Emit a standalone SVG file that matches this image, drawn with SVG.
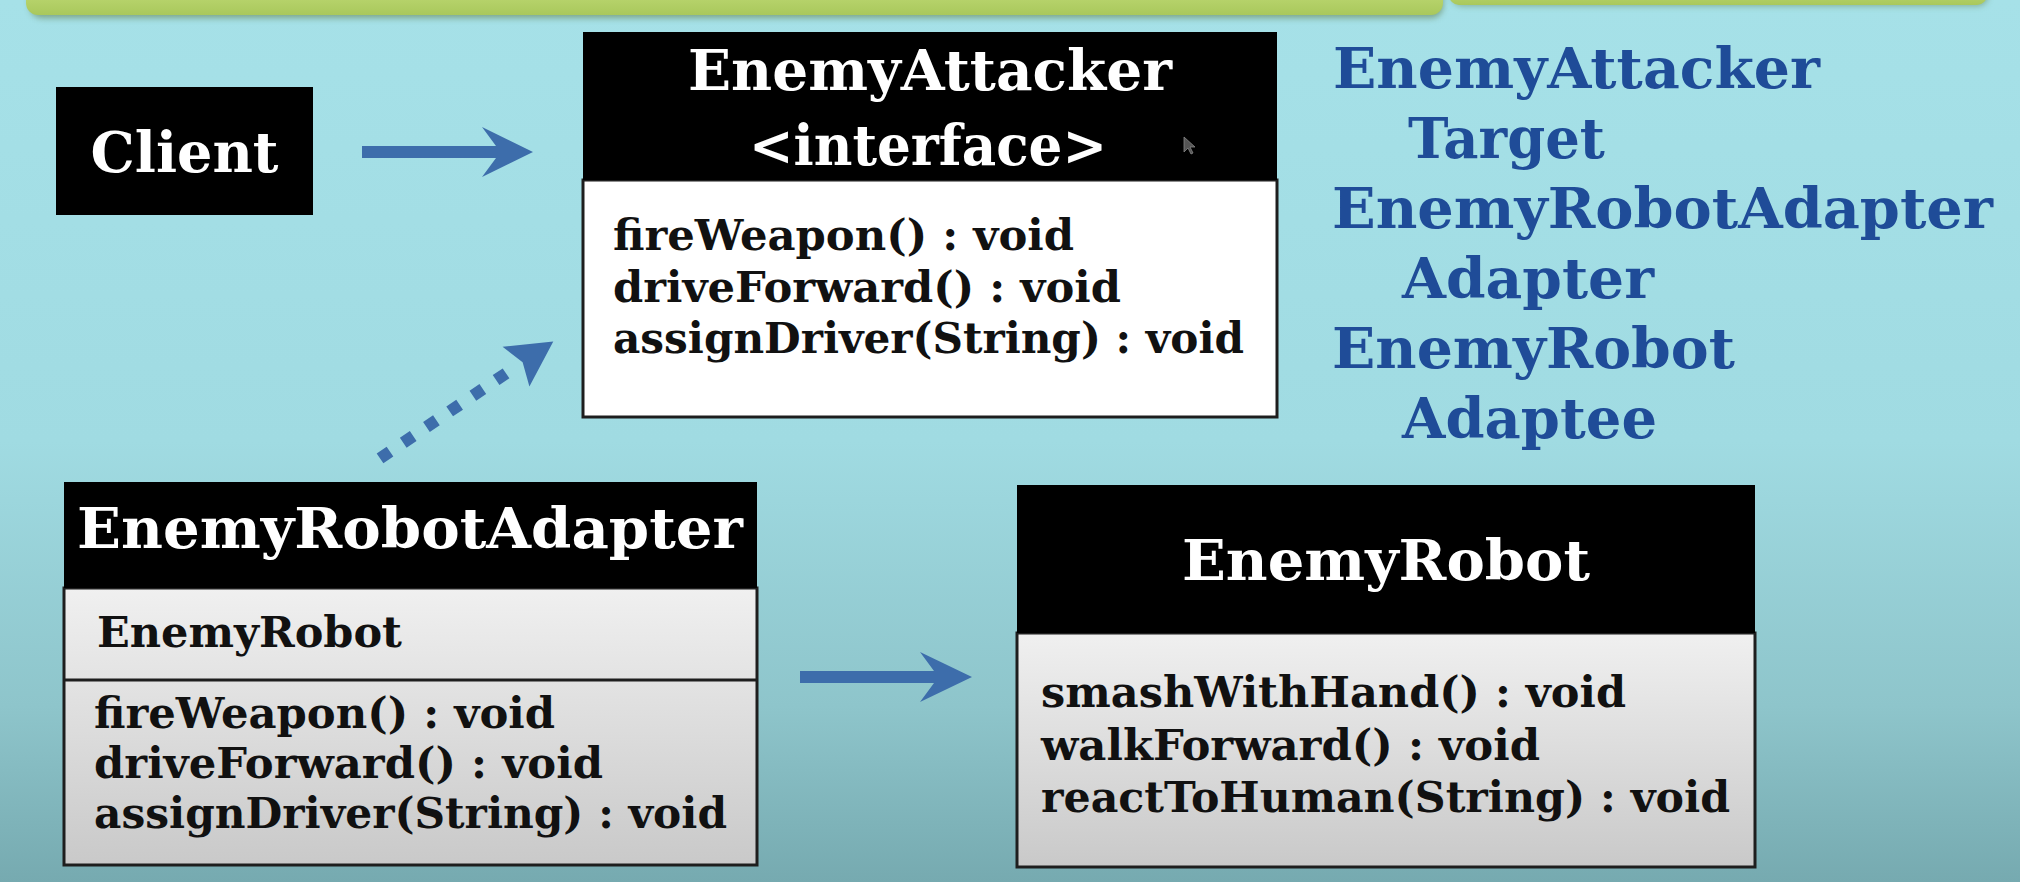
<svg xmlns="http://www.w3.org/2000/svg" width="2020" height="882" viewBox="0 0 2020 882">
  <defs>
    <linearGradient id="bg" x1="0" y1="0" x2="0" y2="1">
      <stop offset="0" stop-color="#a6e1e8"/>
      <stop offset="0.5" stop-color="#a0dbe2"/>
      <stop offset="0.8" stop-color="#8ec5cb"/>
      <stop offset="1" stop-color="#76aab0"/>
    </linearGradient>
    <linearGradient id="green" x1="0" y1="0" x2="0" y2="1">
      <stop offset="0" stop-color="#c6df7c"/>
      <stop offset="1" stop-color="#a9c85c"/>
    </linearGradient>
    <linearGradient id="grayBody" x1="0" y1="0" x2="0" y2="1">
      <stop offset="0" stop-color="#f0f0f0"/>
      <stop offset="1" stop-color="#c9c9c9"/>
    </linearGradient>
    <filter id="shadow" x="-5%" y="-50%" width="110%" height="300%">
      <feGaussianBlur stdDeviation="3"/>
    </filter>
    <style>
      .hdr { fill: #000; }
      .box { stroke: #1e1e1e; stroke-width: 3; }
      .title { font-family: "DejaVu Serif", "Liberation Serif", serif; font-weight: bold; font-size: 56px; fill: #ffffff; }
      .meth { font-family: "DejaVu Serif", "Liberation Serif", serif; font-weight: bold; font-size: 42px; fill: #111111; }
      .blue { font-family: "DejaVu Serif", "Liberation Serif", serif; font-weight: bold; font-size: 56px; fill: #1f4c98; }
      .arrow { fill: #3d6dab; }
      .dots { stroke: #3d6dab; stroke-width: 12; stroke-dasharray: 12 16; fill: none; }
    </style>
  </defs>

  <!-- background -->
  <rect x="0" y="0" width="2020" height="882" fill="url(#bg)"/>

  <!-- green title bar remnant -->
  <g id="top-bar">
    <rect x="30" y="-20" width="1413" height="38" rx="12" fill="#5f7d4a" opacity="0.6" filter="url(#shadow)"/>
    <rect x="26" y="-20" width="1417" height="35" rx="12" fill="url(#green)"/>
    <rect x="1452" y="-20" width="536" height="26" rx="10" fill="#5f7d4a" opacity="0.5" filter="url(#shadow)"/>
    <rect x="1449" y="-20" width="538" height="25" rx="10" fill="url(#green)"/>
  </g>

  <!-- Client -->
  <g id="client">
    <rect x="56" y="87" width="257" height="128" class="hdr"/>
    <text class="title" x="184.5" y="172" text-anchor="middle" font-size="57" textLength="188" lengthAdjust="spacingAndGlyphs">Client</text>
  </g>

  <!-- EnemyAttacker interface -->
  <g id="enemy-attacker">
    <rect x="583" y="180" width="694" height="237" fill="#ffffff" class="box"/>
    <rect x="583" y="32" width="694" height="148" class="hdr"/>
    <text class="title" x="930" y="90" text-anchor="middle" textLength="484" lengthAdjust="spacingAndGlyphs">EnemyAttacker</text>
    <text class="title" x="928" y="165" text-anchor="middle" textLength="358" lengthAdjust="spacingAndGlyphs">&lt;interface&gt;</text>
    <text class="meth" x="613" y="250" textLength="461" lengthAdjust="spacingAndGlyphs">fireWeapon() : void</text>
    <text class="meth" x="613" y="302" textLength="508" lengthAdjust="spacingAndGlyphs">driveForward() : void</text>
    <text class="meth" x="613" y="353" textLength="631" lengthAdjust="spacingAndGlyphs">assignDriver(String) : void</text>
    <!-- mouse pointer -->
    <path d="M1184,137 L1184,152 L1188,148 L1191,154 L1193,153 L1190,147 L1195,147 Z" fill="#555" stroke="#888" stroke-width="0.8"/>
  </g>

  <!-- EnemyRobotAdapter -->
  <g id="enemy-robot-adapter">
    <rect x="64" y="588" width="693" height="277" fill="url(#grayBody)" class="box"/>
    <line x1="64" y1="680" x2="757" y2="680" stroke="#1e1e1e" stroke-width="3"/>
    <rect x="64" y="482" width="693" height="106" class="hdr"/>
    <text class="title" x="410" y="548" text-anchor="middle" textLength="666" lengthAdjust="spacingAndGlyphs">EnemyRobotAdapter</text>
    <text class="meth" x="97" y="647" font-size="41" textLength="305" lengthAdjust="spacingAndGlyphs">EnemyRobot</text>
    <text class="meth" x="94" y="728" textLength="461" lengthAdjust="spacingAndGlyphs">fireWeapon() : void</text>
    <text class="meth" x="94" y="778" textLength="509" lengthAdjust="spacingAndGlyphs">driveForward() : void</text>
    <text class="meth" x="94" y="828" textLength="633" lengthAdjust="spacingAndGlyphs">assignDriver(String) : void</text>
  </g>

  <!-- EnemyRobot -->
  <g id="enemy-robot">
    <rect x="1017" y="633" width="738" height="234" fill="url(#grayBody)" class="box"/>
    <rect x="1017" y="485" width="738" height="148" class="hdr"/>
    <text class="title" x="1386" y="580" text-anchor="middle" textLength="408" lengthAdjust="spacingAndGlyphs">EnemyRobot</text>
    <text class="meth" x="1041" y="707" textLength="585" lengthAdjust="spacingAndGlyphs">smashWithHand() : void</text>
    <text class="meth" x="1041" y="760" textLength="499" lengthAdjust="spacingAndGlyphs">walkForward() : void</text>
    <text class="meth" x="1041" y="812" textLength="689" lengthAdjust="spacingAndGlyphs">reactToHuman(String) : void</text>
  </g>

  <!-- role legend -->
  <g id="legend">
    <text class="blue" x="1333" y="88" textLength="487" lengthAdjust="spacingAndGlyphs">EnemyAttacker</text>
    <text class="blue" x="1408" y="158" textLength="197" lengthAdjust="spacingAndGlyphs">Target</text>
    <text class="blue" x="1332" y="228" textLength="661" lengthAdjust="spacingAndGlyphs">EnemyRobotAdapter</text>
    <text class="blue" x="1402" y="298" textLength="252" lengthAdjust="spacingAndGlyphs">Adapter</text>
    <text class="blue" x="1332" y="368" textLength="403" lengthAdjust="spacingAndGlyphs">EnemyRobot</text>
    <text class="blue" x="1402" y="438" textLength="255" lengthAdjust="spacingAndGlyphs">Adaptee</text>
  </g>

  <!-- connectors -->
  <g id="connectors">
    <polygon class="arrow" points="362,146 496,146 482,127 533,152 482,177 496,158 362,158"/>
    <polygon class="arrow" points="800,671 934,671 920,652 972,677 920,702 934,683 800,683"/>
    <g transform="translate(385,455) rotate(-34)">
      <line class="dots" x1="-6" y1="0" x2="150" y2="0"/>
      <polygon class="arrow" points="158,-24 203,0 158,24 166,0"/>
    </g>
  </g>
</svg>
